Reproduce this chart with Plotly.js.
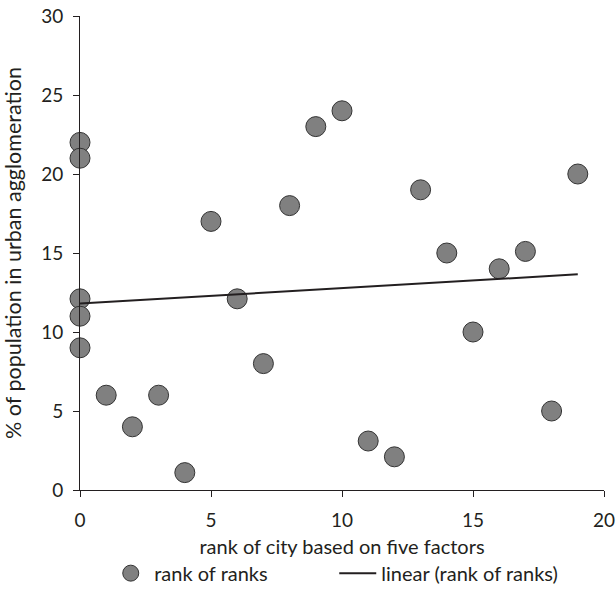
<!DOCTYPE html>
<html>
<head>
<meta charset="utf-8">
<script src="https://cdn.plot.ly/plotly-3.0.1.min.js"></script>
<style>html,body{margin:0;padding:0;background:#fff;}#chart{width:616px;height:604px;}</style>
</head>
<body>
<div id="chart"></div>
<script>
const rankX = [0,0,0,0,0,1,2,3,4,5,6,7,8,9,10,11,12,13,14,15,16,17,18,19];
const pctY = [22,21,12.1,11,9,6,4,6,1.1,17,12.1,8,18,23,24,3.1,2.1,19,15,10,14,15.1,5,20];
const trendX = [0,19];
const trendY = [11.8,13.65];
const xTicks = [0,5,10,15,20];
const yTicks = [0,5,10,15,20,25,30];

const fam = "Lato, Open Sans, sans-serif";
const col = "#231f20";

const data = [
  {x: rankX, y: pctY, type: "scatter", mode: "markers", name: "rank of ranks",
   marker: {size: 20, color: "#808080", line: {color: "#333333", width: 1}}, cliponaxis: false},
  {x: trendX, y: trendY, type: "scatter", mode: "lines", name: "linear (rank of ranks)",
   line: {color: col, width: 2}}
];

const layout = {
  width: 616, height: 604,
  margin: {l: 80, r: 12, t: 16, b: 113},
  paper_bgcolor: "#fff", plot_bgcolor: "#fff",
  font: {family: fam, size: 19, color: col},
  showlegend: true,
  legend: {orientation: "h", x: 0.052, xanchor: "left", y: -0.214, yanchor: "bottom",
           font: {family: fam, size: 20, color: col}, itemwidth: 37,
           entrywidth: 175, entrywidthmode: "pixels"},
  xaxis: {range: [0,20], tickvals: xTicks, ticks: "outside", ticklen: 6, tickcolor: col,
          tickfont: {family: fam, size: 19, color: col}, ticklabelstandoff: 7, automargin: false,
          showgrid: false, zeroline: false, showline: true, linecolor: col, linewidth: 1,
          title: {text: "rank of city based on five factors", font: {family: fam, size: 20, color: col}, standoff: 10}},
  yaxis: {range: [0,30], tickvals: yTicks, ticks: "outside", ticklen: 6, tickcolor: col,
          tickfont: {family: fam, size: 19, color: col}, ticklabelstandoff: 6, automargin: false,
          showgrid: false, zeroline: false, showline: true, linecolor: col, linewidth: 1,
          title: {text: "% of population in urban agglomeration", font: {family: fam, size: 21.5, color: col}, standoff: 16}}
};

Plotly.newPlot("chart", data, layout, {displayModeBar: false});
</script>
</body>
</html>
